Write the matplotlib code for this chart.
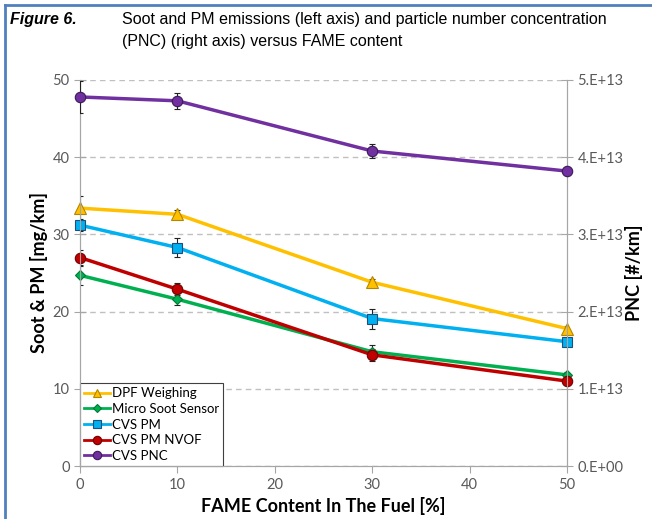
import numpy as np
import matplotlib.pyplot as plt
from matplotlib.ticker import FuncFormatter
from matplotlib.lines import Line2D

fame = [0, 10, 30, 50]

dpf = [33.4, 32.6, 23.8, 17.8]
dpf_err = [1.6, 0.6, 0.4, 0.3]
mss = [24.7, 21.6, 14.8, 11.8]
mss_err = [1.2, 0.8, 0.9, 0.4]
cvs_pm = [31.2, 28.3, 19.1, 16.1]
cvs_pm_err = [0.8, 1.2, 1.3, 0.5]
nvof = [27.0, 22.9, 14.4, 11.0]
nvof_err = [1.0, 0.8, 0.8, 0.3]
pnc = [4.78e13, 4.73e13, 4.08e13, 3.82e13]
pnc_err = [2.1e12, 1.0e12, 0.9e12, 0.4e12]

fig = plt.figure(figsize=(6.52, 5.19), dpi=100)
ax = fig.add_axes([0.1227, 0.1021, 0.7469, 0.7438])
ax2 = ax.twinx()

lab_font = 'Lato'
tick_col = '#595959'

series = [
    ('DPF Weighing', dpf, dpf_err, '#FFC000', '^', '#B38600', 8),
    ('Micro Soot Sensor', mss, mss_err, '#00B050', 'D', '#007a38', 5.5),
    ('CVS PM', cvs_pm, cvs_pm_err, '#00B0F0', 's', '#1f4e79', 7),
    ('CVS PM NVOF', nvof, nvof_err, '#C00000', 'o', '#700000', 7.5),
]
handles = []
for name, y, e, c, m, ec, ms in series:
    ax.errorbar(fame, y, yerr=e, fmt='none', ecolor='#222222', elinewidth=0.8,
                capsize=2.5, capthick=0.8, zorder=3)
    ax.plot(fame, y, color=c, lw=2.5, marker=m, ms=ms, mfc=c, mec=ec,
            mew=0.8, zorder=4, clip_on=False)
    handles.append(Line2D([], [], color=c, lw=2, marker=m, ms=ms * 0.8,
                          mfc=c, mec=ec, mew=0.8, label=name))

ax2.errorbar(fame, pnc, yerr=pnc_err, fmt='none', ecolor='#222222',
             elinewidth=0.8, capsize=2.5, capthick=0.8, zorder=3)
ax2.plot(fame, pnc, color='#7030A0', lw=2.5, marker='o', ms=7.5,
         mfc='#7030A0', mec='#3c1a57', mew=0.8, zorder=4, clip_on=False)
handles.append(Line2D([], [], color='#7030A0', lw=2, marker='o', ms=6,
                      mfc='#7030A0', mec='#3c1a57', mew=0.8, label='CVS PNC'))

ax.set_xlim(0, 50)
ax.set_ylim(0, 50)
ax2.set_ylim(0, 5e13)
ax.set_xticks(np.arange(0, 51, 10))
ax.set_yticks(np.arange(0, 51, 10))
ax2.set_yticks(np.arange(0, 5.1e13, 1e13))
ax2.yaxis.set_major_formatter(FuncFormatter(lambda v, p: '%d.E+%02d' % (round(v / 1e13), 13 if v else 0)))

ax.grid(axis='y', ls=(0, (4, 3)), color='#c0c0c0', lw=1)
ax.set_axisbelow(True)
for a in (ax, ax2):
    a.spines['top'].set_visible(False)
    for s in ('left', 'right', 'bottom'):
        a.spines[s].set_color('#a6a6a6')
ax.tick_params(axis='both', colors='#a6a6a6', labelcolor=tick_col, labelsize=10.5, length=5)
ax.tick_params(axis='y', direction='inout', length=8)
ax2.tick_params(axis='y', colors='#a6a6a6', labelcolor=tick_col, labelsize=10.5, length=8, direction='inout')
for lbl in ax.get_xticklabels() + ax.get_yticklabels() + ax2.get_yticklabels():
    lbl.set_family(lab_font)

ax.set_xlabel('FAME Content In The Fuel [%]', family=lab_font, weight='bold', fontsize=13)
ax.set_ylabel('Soot & PM [mg/km]', family=lab_font, weight='bold', fontsize=13, labelpad=3)
ax2.set_ylabel('PNC [#/km]', family=lab_font, weight='bold', fontsize=13, labelpad=1)

leg = ax.legend(handles=handles, loc='lower left', bbox_to_anchor=(0, 0), prop={'family': lab_font, 'size': 9.5},
                frameon=True, fancybox=False, framealpha=1, edgecolor='#404040',
                handlelength=2.0, handletextpad=0.15, labelspacing=0.28, borderpad=0.3, borderaxespad=0)
leg.get_frame().set_linewidth(0.8)
leg.set_zorder(10)

fig.text(0.015, 0.963, 'Figure 6.', family='Liberation Sans', weight='bold', style='italic', fontsize=11.5, va='center')
fig.text(0.187, 0.963, 'Soot and PM emissions (left axis) and particle number concentration',
         family='Liberation Sans', fontsize=11.5, va='center')
fig.text(0.187, 0.92, '(PNC) (right axis) versus FAME content',
         family='Liberation Sans', fontsize=11.5, va='center')

fig.add_artist(Line2D([0.008, 0.008], [0, 0.99], color='#4f81bd', lw=2))
fig.add_artist(Line2D([0.008, 1], [0.99, 0.99], color='#4f81bd', lw=2))

fig.savefig('out.png', dpi=100)
